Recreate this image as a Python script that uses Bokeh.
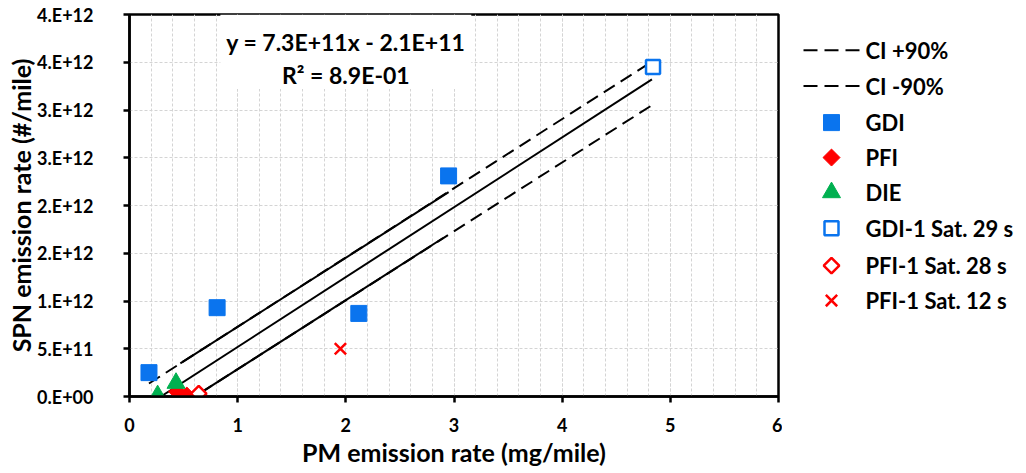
from bokeh.plotting import figure
from bokeh.layouts import row
from bokeh.models import (Range1d, FixedTicker, SingleIntervalTicker, BoxAnnotation, Label)
from bokeh.embed import file_html
from bokeh.resources import INLINE

# ---------------- data ----------------
gdi_x = [0.18, 0.81, 2.12, 2.95]
gdi_y = [2.5e11, 9.3e11, 8.7e11, 2.31e12]
pfi_x = [0.44, 0.53]
pfi_y = [5.0e10, 1.0e10]
die_x = [0.26, 0.43]
die_y = [1.0e10, 1.4e11]
gdi1_29_x = [4.84]
gdi1_29_y = [3.45e12]
pfi1_28_x = [0.64]
pfi1_28_y = [3.0e10]
pfi1_12_x = [1.95]
pfi1_12_y = [5.0e11]

fit_x = [0.29, 4.83]
fit_y = [0.0, 3.32e12]
ci_up_x = [0.18, 4.82]
ci_up_y = [1.36e11, 3.50e12]
ci_lo_x = [0.66, 4.83]
ci_lo_y = [4.0e10, 3.05e12]
ci_up_solid_x = [0.47, 2.95]
ci_up_solid_y = [3.46e11, 2.14e12]
ci_lo_solid_x = [0.66, 2.90]
ci_lo_solid_y = [4.0e10, 1.66e12]

y_ticks = [0, 0.5e12, 1.0e12, 1.5e12, 2.0e12, 2.5e12, 3.0e12, 3.5e12, 4.0e12]
y_tick_labels = ["0.E+00", "5.E+11", "1.E+12", "2.E+12", "2.E+12", "3.E+12", "3.E+12", "4.E+12", "4.E+12"]

legend_labels = ["CI +90%", "CI -90%", "GDI", "PFI", "DIE",
                 "GDI-1 Sat. 29 s", "PFI-1 Sat. 28 s", "PFI-1 Sat. 12 s"]

eq_line1 = "y = 7.3E+11x - 2.1E+11"
eq_line2 = "R² = 8.9E-01"

BLUE = "#0a74ee"
RED = "#ff0000"
GREEN = "#00b050"
FONT = "Lato"
DASH = "13 7"

H = 470
FL, FT, FW, FH = 129, 14, 649, 382
MAIN_W = FL + FW + 4
p = figure(width=MAIN_W, height=H, output_backend="svg", toolbar_location=None,
           x_range=Range1d(0, 6), y_range=Range1d(0, 4e12),
           min_border_left=FL, min_border_right=MAIN_W - FL - FW,
           min_border_top=FT, min_border_bottom=H - FT - FH)
p.background_fill_color = "white"
p.border_fill_color = "white"
p.outline_line_color = "black"
p.outline_line_width = 2.5

# axes
p.xaxis.ticker = SingleIntervalTicker(interval=1, num_minor_ticks=5)
p.yaxis.ticker = FixedTicker(ticks=y_ticks)
p.yaxis.major_label_overrides = {t: l for t, l in zip(y_ticks, y_tick_labels)}
for ax in (p.xaxis[0], p.yaxis[0]):
    ax.axis_line_color = "black"
    ax.axis_line_width = 2.5
    ax.major_tick_line_color = "black"
    ax.major_tick_line_width = 2.5
    ax.major_tick_out = 6
    ax.major_tick_in = 0
    ax.minor_tick_line_color = None
    ax.major_label_text_font = FONT
    ax.major_label_text_font_style = "bold"
    ax.major_label_text_font_size = "18px"
    ax.major_label_text_color = "black"
    ax.axis_label_text_font = FONT
    ax.axis_label_text_font_style = "bold"
    ax.axis_label_text_font_size = "25px"
    ax.axis_label_text_color = "black"
p.xaxis.axis_label = "PM emission rate (mg/mile)"
p.yaxis.axis_label = "SPN emission rate (#/mile)"
p.xaxis.major_label_standoff = 15
p.yaxis.major_label_standoff = 30
p.xaxis.axis_label_standoff = 2
p.yaxis.axis_label_standoff = -2

# grid
p.xgrid.grid_line_color = "#d4d4d4"
p.xgrid.grid_line_dash = "3 2"
p.xgrid.grid_line_width = 1
p.xgrid.minor_grid_line_color = "#d4d4d4"
p.xgrid.minor_grid_line_dash = "3 2"
p.ygrid.grid_line_color = "#d4d4d4"
p.ygrid.grid_line_dash = "3 2"

# lines
p.line(ci_up_x, ci_up_y, line_color="black", line_width=2, line_dash=DASH)
p.line(ci_lo_x, ci_lo_y, line_color="black", line_width=2, line_dash=DASH)
p.line(ci_up_solid_x, ci_up_solid_y, line_color="black", line_width=2)
p.line(ci_lo_solid_x, ci_lo_solid_y, line_color="black", line_width=2)
p.line(fit_x, fit_y, line_color="black", line_width=2)

# markers
MK = dict(
    gdi=dict(marker="square", size=16, angle=0, fill_color=BLUE, line_color=BLUE, line_width=1),
    pfi=dict(marker="square", size=12, angle=0.785398, fill_color=RED, line_color=RED, line_width=1),
    die=dict(marker="triangle", size=18, angle=0, fill_color=GREEN, line_color=GREEN, line_width=1),
    g29=dict(marker="square", size=14, angle=0, fill_color="white", line_color=BLUE, line_width=2.5),
    p28=dict(marker="square", size=11, angle=0.785398, fill_color="white", line_color=RED, line_width=2.5),
    p12=dict(marker="x", size=16, angle=0, fill_color=None, line_color=RED, line_width=2.5),
)
p.scatter(gdi_x, gdi_y, **MK["gdi"])
p.scatter(pfi_x, pfi_y, **MK["pfi"])
p.scatter(die_x, die_y, **MK["die"])
p.scatter(gdi1_29_x, gdi1_29_y, **MK["g29"])
p.scatter(pfi1_28_x, pfi1_28_y, **MK["p28"])
p.scatter(pfi1_12_x, pfi1_12_y, **MK["p12"])

# equation box
p.add_layout(BoxAnnotation(left=0.84, right=3.16, bottom=3.22e12, top=4.0e12,
                           fill_color="white", fill_alpha=1.0, line_color=None))
p.add_layout(Label(x=2.0, y=3.71e12, text=eq_line1, text_align="center", text_baseline="middle",
                   text_font=FONT, text_font_style="bold", text_font_size="23px", text_color="black"))
p.add_layout(Label(x=2.0, y=3.37e12, text=eq_line2, text_align="center", text_baseline="middle",
                   text_font=FONT, text_font_style="bold", text_font_size="23px", text_color="black"))

# ---------------- legend panel (screen-pixel coordinates, y downward) ----------------
LW = 234
lg = figure(width=LW, height=H, output_backend="svg", toolbar_location=None,
            x_range=Range1d(0, LW), y_range=Range1d(H, 0),
            min_border_left=0, min_border_right=0, min_border_top=0, min_border_bottom=0)
lg.axis.visible = False
lg.grid.visible = False
lg.outline_line_color = None
lg.background_fill_color = "white"
lg.border_fill_color = "white"

row_y = [44, 88, 133, 176, 219, 263, 309, 352]
x_line0, x_line1, x_mark, x_text = 21, 78, 49, 83
for yy in row_y[:2]:
    lg.line([x_line0, x_line1], [yy, yy], line_color="black", line_width=2, line_dash="14 7")
for key, yy in zip(["gdi", "pfi", "die", "g29", "p28", "p12"], row_y[2:]):
    lg.scatter([x_mark], [yy], **MK[key])
lg.text(x=[x_text] * len(legend_labels), y=row_y, text=legend_labels,
        text_font={"value": FONT}, text_font_style="bold", text_font_size="22px",
        text_baseline="middle", text_align="left", text_color="black")

layout = row(p, lg, spacing=0)
open("out.html", "w").write(file_html(layout, INLINE))
